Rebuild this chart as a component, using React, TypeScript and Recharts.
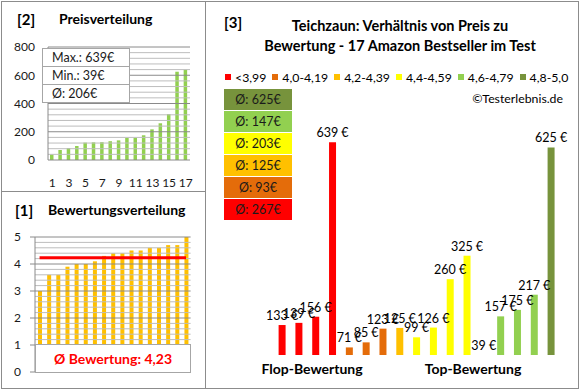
import React from 'react';
import { BarChart, ComposedChart, Bar, Line, XAxis, YAxis, ReferenceLine, Cell, LabelList } from 'recharts';

const FONT = 'Lato, "Open Sans", Arial, sans-serif';

// Panel [2] – price distribution (sorted)
const PRICE_SORTED = [39, 71, 85, 99, 123, 125, 126, 133, 139, 156, 157, 175, 217, 260, 325, 625, 639];
const PRICE_TICKS = [0, 200, 400, 600, 800];
const PRICE_MINOR = [40, 80, 120, 160, 240, 280, 320, 360, 440, 480, 520, 560, 640, 680, 720, 760];
const PRICE_STATS = ['Max.: 639€', 'Min.: 39€', 'Ø: 206€'];

// Panel [1] – rating distribution (sorted)
const RATINGS_SORTED = [3.0, 3.6, 3.6, 3.9, 4.0, 4.0, 4.1, 4.3, 4.4, 4.4, 4.5, 4.5, 4.6, 4.6, 4.7, 4.7, 5.0];
const RATING_TICKS = [0, 1, 2, 3, 4, 5];
const RATING_MINOR = [0.2, 0.4, 0.6, 0.8, 1.2, 1.4, 1.6, 1.8, 2.2, 2.4, 2.6, 2.8, 3.2, 3.4, 3.6, 3.8, 4.2, 4.4, 4.6, 4.8];
const AVG_RATING = 4.23;
const AVG_RATING_TEXT = 'Ø Bewertung: 4,23';

// Panel [3] – price vs rating
const GROUP_LABELS = ['<3,99', '4,0-4,19', '4,2-4,39', '4,4-4,59', '4,6-4,79', '4,8-5,0'];
const GROUP_COLORS = ['#FF0000', '#E46C0A', '#FFC000', '#FFFF00', '#92D050', '#77933C'];
const GROUP_AVG = ['Ø: 267€', 'Ø: 93€', 'Ø: 125€', 'Ø: 203€', 'Ø: 147€', 'Ø: 625€'];
const MAIN_PRICES = [133, 139, 156, 639, 71, 85, 123, 125, 99, 126, 260, 325, 39, 157, 175, 217, 625];
const MAIN_GROUP = [0, 0, 0, 0, 1, 1, 1, 2, 3, 3, 3, 3, 4, 4, 4, 4, 5];
const MAIN_DOMAIN = [50, 700];

const priceData = PRICE_SORTED.map((p, i) => ({ idx: String(i + 1), price: p }));
const ratingData = RATINGS_SORTED.map((r, i) => ({ idx: String(i + 1), rating: r, avg: AVG_RATING }));
const mainData = MAIN_PRICES.map((p, i) => ({ idx: String(i + 1), price: p, group: MAIN_GROUP[i] }));

const MAJOR = '#8a8a8a';
const MINOR = '#bdbdbd';

const Txt = ({ x, y, children, style }: any) => (
  <div style={{ position: 'absolute', left: x, top: y - 10, height: 20, lineHeight: '20px', whiteSpace: 'nowrap', fontFamily: FONT, color: '#000', ...style }}>
    {children}
  </div>
);
const CTxt = ({ cx, y, children, style }: any) => (
  <div style={{ position: 'absolute', left: cx - 200, width: 400, textAlign: 'center', top: y - 10, height: 20, lineHeight: '20px', whiteSpace: 'nowrap', fontFamily: FONT, color: '#000', ...style }}>
    {children}
  </div>
);

const PriceLabel = (props: any) => {
  const vb = props.viewBox || props;
  const x = Number(vb.x), y = Number(vb.y), w = Number(vb.width), h = Number(vb.height);
  const top = Math.min(y, y + h);
  return (
    <text x={x + w / 2} y={top - 5} textAnchor="middle" fontSize={12.5} fontFamily={FONT} fill="#000">
      {`${props.value} €`}
    </text>
  );
};

const tickStyle = { fontSize: 12, fill: '#1a1a1a', fontFamily: FONT };

export default function App() {
  return (
    <div style={{ position: 'absolute', left: 0, top: 0, width: 580, height: 390, background: '#fff', overflow: 'hidden', fontFamily: FONT }}>
      {/* Panel [2] */}
      <div style={{ position: 'absolute', left: 0, top: 0 }}>
        <BarChart width={200} height={195} data={priceData} margin={{ top: 47, right: 10, bottom: 5, left: 0 }}>
          <XAxis dataKey="idx" interval={1} tickLine={false} axisLine={{ stroke: MAJOR }} tick={tickStyle} tickMargin={12} height={30} />
          <YAxis domain={[0, 800]} ticks={PRICE_TICKS} interval={0} width={48} tickLine={false} axisLine={{ stroke: MAJOR }} tick={tickStyle} tickSize={5} tickMargin={8} />
          {PRICE_MINOR.map((v) => (
            <ReferenceLine key={'pm' + v} y={v} stroke={MINOR} />
          ))}
          {PRICE_TICKS.slice(1).map((v) => (
            <ReferenceLine key={'pM' + v} y={v} stroke={MAJOR} />
          ))}
          <Bar dataKey="price" fill="#92D050" barSize={3.5} isAnimationActive={false} />
        </BarChart>
      </div>
      <Txt x={17} y={19} style={{ fontSize: 15, fontWeight: 700 }}>[2]</Txt>
      <Txt x={59} y={19} style={{ fontSize: 14, fontWeight: 700 }}>Preisverteilung</Txt>
      <div style={{ position: 'absolute', left: 42, top: 48, width: 88, height: 55, background: '#fff', border: '1px solid #a6a6a6', boxSizing: 'border-box' }}>
        {PRICE_STATS.map((s, i) => (
          <div key={s} style={{ height: i < 2 ? 18 : 17, lineHeight: '18px', borderBottom: i < 2 ? '1px solid #a6a6a6' : 'none', paddingLeft: 9, fontSize: 12.5, color: '#1a1a1a', boxSizing: 'border-box', whiteSpace: 'nowrap' }}>
            {s}
          </div>
        ))}
      </div>

      {/* Panel [1] */}
      <div style={{ position: 'absolute', left: 0, top: 195 }}>
        <ComposedChart width={200} height={195} data={ratingData} margin={{ top: 42, right: 9.4, bottom: 18, left: 0 }}>
          <XAxis dataKey="idx" hide />
          <YAxis domain={[0, 5]} ticks={RATING_TICKS} interval={0} width={35} tickLine={{ stroke: MAJOR }} axisLine={{ stroke: MAJOR }} tick={tickStyle} tickSize={5} tickMargin={9} />
          {RATING_MINOR.map((v) => (
            <ReferenceLine key={'rm' + v} y={v} stroke={MINOR} />
          ))}
          {RATING_TICKS.slice(1).map((v) => (
            <ReferenceLine key={'rM' + v} y={v} stroke={MAJOR} />
          ))}
          <Bar dataKey="rating" fill="#FFC000" barSize={4} isAnimationActive={false} />
          <Line dataKey="avg" stroke="#FF0000" strokeWidth={3} dot={false} activeDot={false} isAnimationActive={false} />
        </ComposedChart>
      </div>
      <Txt x={15} y={210} style={{ fontSize: 15, fontWeight: 700 }}>[1]</Txt>
      <Txt x={48} y={210} style={{ fontSize: 14, fontWeight: 700 }}>Bewertungsverteilung</Txt>
      <div style={{ position: 'absolute', left: 35, top: 344, width: 156, height: 29, background: '#fff', border: '1px solid #a6a6a6', boxSizing: 'border-box', textAlign: 'center', lineHeight: '27px', fontSize: 14, fontWeight: 700, color: '#FF0000', whiteSpace: 'nowrap' }}>
        {AVG_RATING_TEXT}
      </div>

      {/* Panel [3] */}
      <div style={{ position: 'absolute', left: 200, top: 0 }}>
        <BarChart width={380} height={390} data={mainData} margin={{ top: 120.3, right: 20.6, bottom: 35, left: 73.6 }}>
          <XAxis dataKey="idx" hide />
          <YAxis domain={MAIN_DOMAIN} allowDataOverflow hide />
          <Bar dataKey="price" barSize={7} isAnimationActive={false}>
            {mainData.map((d) => (
              <Cell key={d.idx} fill={GROUP_COLORS[d.group]} />
            ))}
            <LabelList dataKey="price" content={PriceLabel} />
          </Bar>
        </BarChart>
      </div>
      <Txt x={224} y={22} style={{ fontSize: 15, fontWeight: 700 }}>[3]</Txt>
      <CTxt cx={400} y={26} style={{ fontSize: 14.5, fontWeight: 700 }}>Teichzaun: Verhältnis von Preis zu</CTxt>
      <CTxt cx={400} y={46} style={{ fontSize: 14.5, fontWeight: 700 }}>Bewertung - 17 Amazon Bestseller im Test</CTxt>
      <div style={{ position: 'absolute', left: 225, top: 68, height: 18, display: 'flex', alignItems: 'center', gap: 6, fontSize: 12.3, whiteSpace: 'nowrap' }}>
        {GROUP_LABELS.map((l, i) => (
          <div key={l} style={{ display: 'flex', alignItems: 'center' }}>
            <span style={{ display: 'inline-block', width: 6, height: 6, background: GROUP_COLORS[i], marginRight: 4 }} />
            <span>{l}</span>
          </div>
        ))}
      </div>
      <div style={{ position: 'absolute', left: 224, top: 89, width: 68 }}>
        {GROUP_AVG.map((a, i) => GROUP_AVG.length - 1 - i).map((gi) => (
          <div key={gi} style={{ height: 21, marginBottom: 1, background: GROUP_COLORS[gi], fontSize: 12.5, lineHeight: '21px', textAlign: 'center', color: '#1a1a1a', whiteSpace: 'nowrap' }}>
            {GROUP_AVG[gi]}
          </div>
        ))}
      </div>
      <Txt x={0} y={99} style={{ left: 'auto', right: 17, fontSize: 12.3 }}>©Testerlebnis.de</Txt>
      <CTxt cx={312} y={369} style={{ fontSize: 14, fontWeight: 700 }}>Flop-Bewertung</CTxt>
      <CTxt cx={473} y={369} style={{ fontSize: 14, fontWeight: 700 }}>Top-Bewertung</CTxt>

      {/* Panel borders */}
      <div style={{ position: 'absolute', left: 1, top: 1, width: 578, height: 388, border: '1px solid #8c8c8c', boxSizing: 'border-box' }} />
      <div style={{ position: 'absolute', left: 205, top: 1, width: 1, height: 388, background: '#8c8c8c' }} />
      <div style={{ position: 'absolute', left: 1, top: 191, width: 205, height: 1, background: '#8c8c8c' }} />
    </div>
  );
}
